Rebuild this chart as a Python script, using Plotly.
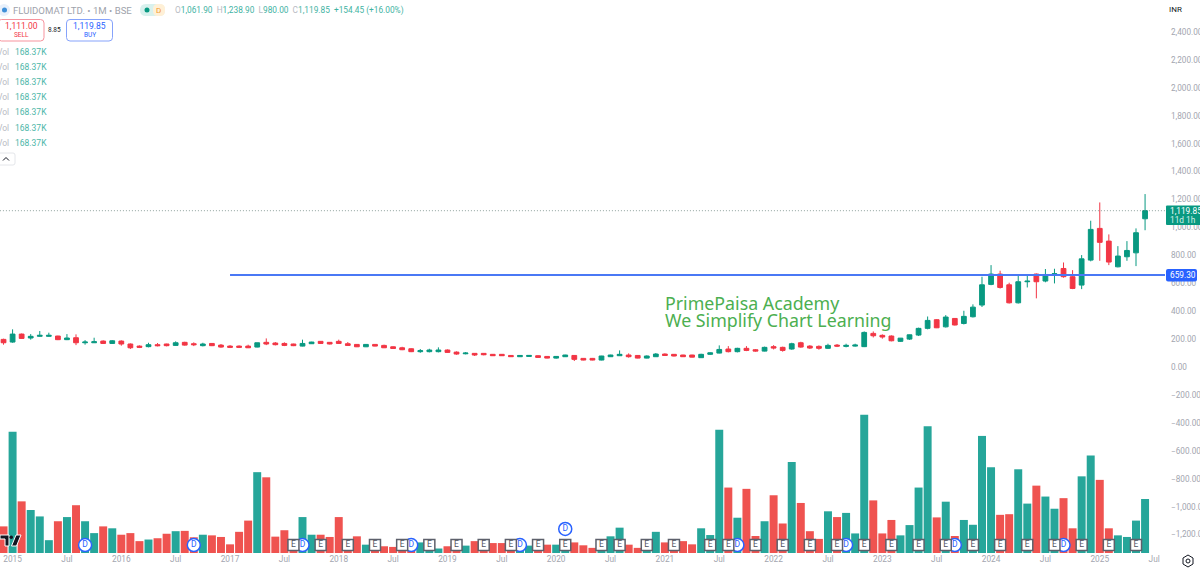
import plotly.graph_objects as go

W, H = 1200, 571
PLOT_RIGHT, PLOT_BOTTOM = 1165, 553

# monthly bars, Dec 2014 .. Jun 2025
months = ["2014-12"] + [f"{y}-{m:02d}" for y in range(2015, 2025) for m in range(1, 13)] \
    + [f"2025-{m:02d}" for m in range(1, 7)]
opens = [198, 179, 236, 208, 220, 220, 222, 196, 210, 174, 174, 186,
         169, 186, 165, 150, 146, 160, 165, 155, 177, 167, 153, 169,
         157, 150, 150, 150, 143, 177, 172, 169, 165, 150, 167, 184,
         177, 184, 167, 162, 145, 162, 155, 145, 138, 131, 110, 110,
         110, 122, 107, 95, 98, 98, 91, 91, 83, 74, 76, 81,
         76, 64, 74, 83, 62, 62, 50, 74, 81, 86, 83, 64,
         74, 93, 91, 86, 86, 67, 91, 100, 129, 110, 134, 124,
         114, 146, 141, 129, 174, 150, 148, 134, 157, 148, 150, 146,
         241, 227, 222, 184, 200, 229, 277, 339, 288, 348, 312, 360,
         444, 592, 666, 589, 460, 611, 666, 616, 663, 706, 647, 587,
         766, 993, 902, 718, 790, 818, 1061.90]
highs = [203, 270, 240, 236, 258, 246, 224, 236, 234, 193, 210, 191,
         193, 191, 169, 155, 174, 172, 167, 184, 181, 177, 174, 172,
         165, 157, 155, 160, 174, 205, 179, 177, 167, 196, 181, 186,
         179, 196, 179, 165, 165, 165, 160, 148, 145, 134, 129, 131,
         141, 126, 112, 107, 100, 100, 93, 93, 86, 86, 84, 84,
         79, 79, 88, 86, 64, 65, 80, 88, 119, 98, 86, 83,
         100, 98, 93, 88, 88, 95, 105, 155, 150, 138, 150, 129,
         146, 157, 146, 174, 181, 157, 155, 167, 165, 167, 167, 255,
         255, 234, 227, 208, 232, 282, 362, 343, 372, 351, 403, 449,
         647, 730, 690, 604, 656, 666, 670, 702, 704, 749, 694, 802,
         1048, 1179, 950, 866, 902, 993, 1238.90]
lows = [160, 174, 203, 196, 217, 217, 193, 193, 157, 160, 172, 165,
        165, 153, 129, 136, 141, 148, 148, 153, 153, 150, 148, 150,
        138, 136, 136, 136, 141, 157, 155, 150, 150, 148, 165, 165,
        162, 165, 153, 143, 143, 148, 136, 131, 121, 107, 102, 105,
        105, 102, 88, 91, 79, 84, 79, 79, 72, 72, 74, 67,
        62, 60, 72, 43, 48, 48, 48, 72, 79, 67, 62, 62,
        72, 79, 76, 72, 69, 65, 86, 98, 105, 105, 114, 110,
        112, 126, 110, 124, 138, 129, 124, 129, 143, 141, 146, 143,
        212, 203, 184, 180, 194, 222, 270, 279, 283, 298, 305, 355,
        430, 586, 562, 455, 455, 570, 492, 607, 599, 640, 558, 558,
        757, 761, 730, 714, 761, 723, 980.00]
closes = [174, 236, 205, 220, 227, 227, 196, 208, 174, 179, 181, 169,
          188, 165, 138, 141, 160, 153, 153, 174, 157, 160, 165, 153,
          143, 141, 141, 138, 174, 165, 160, 155, 153, 169, 179, 169,
          165, 169, 155, 145, 162, 150, 138, 133, 124, 110, 117, 122,
          122, 105, 93, 100, 86, 88, 81, 81, 74, 83, 83, 69,
          64, 76, 86, 55, 50, 50, 79, 86, 91, 74, 64, 79,
          93, 83, 79, 74, 71, 91, 102, 126, 110, 134, 119, 114,
          141, 136, 119, 167, 143, 136, 134, 155, 150, 155, 157, 248,
          224, 215, 188, 207, 231, 277, 334, 281, 358, 301, 363, 429,
          589, 666, 570, 460, 611, 615, 611, 663, 668, 647, 563, 775,
          986, 893, 752, 795, 835, 962, 1119.85]
volumes_k = [83, 378, 161, 134, 114, 40, 99, 112, 149, 99, 62, 83,
             77, 57, 62, 37, 42, 46, 60, 68, 69, 49, 57, 55,
             50, 27, 66, 101, 252, 236, 51, 71, 4, 112, 57, 57,
             50, 112, 42, 52, 26, 21, 21, 19, 16, 10, 33, 31,
             14, 21, 31, 23, 37, 36, 31, 31, 26, 21, 23, 31,
             26, 26, 31, 33, 24, 16, 31, 52, 79, 26, 16, 31,
             66, 33, 36, 37, 27, 77, 56, 384, 204, 110, 200, 53,
             99, 180, 92, 284, 156, 68, 44, 130, 112, 125, 61, 431,
             164, 61, 103, 55, 87, 204, 395, 111, 160, 53, 103, 88,
             365, 267, 119, 121, 261, 154, 210, 176, 138, 171, 77, 239,
             304, 228, 77, 55, 50, 101, 168.37]

price_ticks = [-1200, -1000, -800, -600, -400, -200, 0, 200, 400, 600, 800, 1000,
               1200, 1400, 1600, 1800, 2000, 2200, 2400]
price_labels = ["−1,200.00", "−1,000.00", "−800.00", "−600.00", "−400.00", "−200.00", "0.00",
                "200.00", "400.00", "600.00", "800.00", "1,000.00", "1,200.00", "1,400.00",
                "1,600.00", "1,800.00", "2,000.00", "2,200.00", "2,400.00"]
time_ticks = ["2015-01", "2015-07", "2016-01", "2016-07", "2017-01", "2017-07", "2018-01",
              "2018-07", "2019-01", "2019-07", "2020-01", "2020-07", "2021-01", "2021-07",
              "2022-01", "2022-07", "2023-01", "2023-07", "2024-01", "2024-07", "2025-01", "2025-07"]
time_labels = ["2015", "Jul", "2016", "Jul", "2017", "Jul", "2018", "Jul", "2019", "Jul", "2020",
               "Jul", "2021", "Jul", "2022", "Jul", "2023", "Jul", "2024", "Jul", "2025", "Jul"]

earnings = ["2017-08", "2017-11", "2018-02", "2018-05", "2018-08", "2018-11", "2019-02", "2019-05",
            "2019-08", "2019-11", "2020-02", "2020-06", "2020-08", "2020-11", "2021-02", "2021-06",
            "2021-08", "2021-11", "2022-02", "2022-05", "2022-08", "2022-11", "2023-02", "2023-05",
            "2023-08", "2023-11", "2024-02", "2024-05", "2024-08", "2024-11", "2025-02", "2025-05"]
dividends = ["2015-09", "2016-09", "2017-09", "2018-09", "2019-09", "2021-09", "2022-09",
             "2023-09", "2024-09"]
dividends_high = ["2020-02"]

support = 659.30
last_price = 1119.85

UP, DOWN = "#089981", "#f23645"
VOL_UP, VOL_DOWN = "#26a69a", "#ef5350"
GREY = "#a3a6af"
BLUE = "#2962ff"
FONT = "Noto Sans"
SMALL = "Roboto"


def px(x):
    return x / W


def py(y):
    return 1 - y / H


def rounded(x0, y0, x1, y1, r):
    # rounded box path, pixel input
    pts = [f"M{px(x0 + r)},{py(y0)}", f"L{px(x1 - r)},{py(y0)}", f"Q{px(x1)},{py(y0)} {px(x1)},{py(y0 + r)}",
           f"L{px(x1)},{py(y1 - r)}", f"Q{px(x1)},{py(y1)} {px(x1 - r)},{py(y1)}", f"L{px(x0 + r)},{py(y1)}",
           f"Q{px(x0)},{py(y1)} {px(x0)},{py(y1 - r)}", f"L{px(x0)},{py(y0 + r)}",
           f"Q{px(x0)},{py(y0)} {px(x0 + r)},{py(y0)}", "Z"]
    return " ".join(pts)


def poly(points):
    return "M" + " L".join(f"{px(a)},{py(b)}" for a, b in points) + " Z"


fig = go.Figure()

bar_colors = [VOL_UP if c >= o else VOL_DOWN for o, c in zip(opens, closes)]
fig.add_trace(go.Bar(x=months, y=volumes_k, marker=dict(color=bar_colors, line=dict(width=0)), yaxis="y"))

fig.add_trace(go.Candlestick(
    x=months, open=opens, high=highs, low=lows, close=closes, yaxis="y2", whiskerwidth=0,
    increasing=dict(line=dict(color=UP, width=1), fillcolor=UP),
    decreasing=dict(line=dict(color=DOWN, width=1), fillcolor=DOWN),
))

# event flags along the bottom of the pane
event_y = -1275
fig.add_trace(go.Scatter(
    x=dividends, y=[event_y] * len(dividends), yaxis="y2", mode="markers+text", text=["D"] * len(dividends),
    textfont=dict(family=SMALL, size=8.5, color=BLUE), textposition="middle center",
    marker=dict(symbol="circle", size=13, color="white", line=dict(color=BLUE, width=1.5)),
))
fig.add_trace(go.Scatter(
    x=dividends_high, y=[-1160], yaxis="y2", mode="markers+text", text=["D"],
    textfont=dict(family=SMALL, size=8.5, color=BLUE), textposition="middle center",
    marker=dict(symbol="circle", size=13, color="white", line=dict(color=BLUE, width=1.5)),
))
fig.add_trace(go.Scatter(
    x=earnings, y=[event_y] * len(earnings), yaxis="y2", mode="markers+text", text=["E"] * len(earnings),
    textfont=dict(family=SMALL, size=8.5, color="#50535e"), textposition="middle center",
    marker=dict(symbol="square", size=11, color="white", line=dict(color="#5d606b", width=1.5)),
))

shapes = [
    dict(type="line", xref="x", yref="y2", x0=-0.4, x1=128.3, y0=last_price, y1=last_price,
         line=dict(color="rgba(70,100,95,0.6)", width=1, dash="1px,2px")),
    dict(type="line", xref="x", yref="y2", x0=25, x1=128.4, y0=support, y1=support,
         line=dict(color="#4a78f5", width=2)),
    dict(type="path", path=rounded(1166, 205.5, 1201, 225, 1), fillcolor=UP, line=dict(width=0)),
    dict(type="path", path=rounded(1166, 269, 1197, 281.5, 2), fillcolor=BLUE, line=dict(width=0)),
    # sell / buy boxes
    dict(type="path", path=rounded(-2, 19.5, 44, 41, 3.5), fillcolor="white", line=dict(color="#f7939d", width=1)),
    dict(type="path", path=rounded(66.5, 19.5, 112.5, 41, 3.5), fillcolor="white", line=dict(color="#86a3fb", width=1)),
    # symbol badge and status pills
    dict(type="circle", xref="paper", yref="paper", x0=px(-2), x1=px(10), y0=py(16), y1=py(4),
         fillcolor="#e8f0fb", line=dict(width=0)),
    dict(type="circle", xref="paper", yref="paper", x0=px(2), x1=px(7), y0=py(12.5), y1=py(7.5),
         fillcolor="#3f8fd8", line=dict(width=0)),
    dict(type="path", path=rounded(140, 4, 165, 16, 6), fillcolor="#d8f1ed", line=dict(width=0)),
    dict(type="path", path=rounded(153, 4, 165, 16, 5), fillcolor="#fff0d6", line=dict(width=0)),
    dict(type="circle", xref="paper", yref="paper", x0=px(144.5), x1=px(149.5), y0=py(12.5), y1=py(7.5),
         fillcolor=UP, line=dict(width=0)),
    # collapse button
    dict(type="path", path=rounded(-2, 153, 15, 165, 2), fillcolor="white", line=dict(color="#e4e6ea", width=1)),
    dict(type="path", path=f"M{px(3)},{py(160.5)} L{px(6)},{py(157.5)} L{px(9)},{py(160.5)}",
         line=dict(color="#131722", width=1)),
    # logo
    dict(type="path", path=poly([(0, 535), (9, 535), (9, 546), (5, 546), (5, 539), (0, 539)]),
         fillcolor="#131722", line=dict(color="white", width=1)),
    dict(type="circle", xref="paper", yref="paper", x0=px(9.5), x1=px(13), y0=py(539), y1=py(535.5),
         fillcolor="#131722", line=dict(width=0)),
    dict(type="path", path=poly([(16, 535), (21, 535), (16.5, 546), (11.5, 546)]),
         fillcolor="#131722", line=dict(color="white", width=1)),
    # settings hexagon
    dict(type="path", path=poly([(1188, 555), (1193, 558), (1193, 564), (1188, 567), (1183, 564), (1183, 558)]),
         fillcolor="white", line=dict(color="#131722", width=1)),
    dict(type="circle", xref="paper", yref="paper", x0=px(1186), x1=px(1190), y0=py(563), y1=py(559),
         fillcolor="white", line=dict(color="#131722", width=1)),
]
for s in shapes:
    s.setdefault("xref", "paper")
    s.setdefault("yref", "paper")


def note(x, y, text, size=10, color=GREY, anchor="left", family=SMALL):
    fig.add_annotation(xref="paper", yref="paper", x=px(x), y=py(y), text=text, showarrow=False,
                       xanchor=anchor, yanchor="middle", font=dict(family=family, size=size, color=color),
                       borderpad=0, borderwidth=0)


note(13, 10, "FLUIDOMAT LTD. • 1M • BSE", size=9.6, color="#a0a3ac")
note(158.5, 10, "D", size=8, color="#f39a2e", anchor="center")
g = "#3fb3a3"
sp = "&nbsp;&nbsp;"
note(175, 10, f"O<span style='color:{g}'>1,061.90</span>{sp}H<span style='color:{g}'>1,238.90</span>{sp}"
              f"L<span style='color:{g}'>980.00</span>{sp}C<span style='color:{g}'>1,119.85</span>{sp}"
              f"<span style='color:{g}'>+154.45 (+16.00%)</span>", size=8.3, color="#b8bbc3")
note(21, 26.5, "1,111.00", size=8.5, color="#f23645", anchor="center")
note(21, 35.5, "SELL", size=6.5, color="#f23645", anchor="center")
note(55, 30, "8.85", size=6.5, color="#131722", anchor="center")
note(89.5, 26.5, "1,119.85", size=8.5, color=BLUE, anchor="center")
note(89.5, 35.5, "BUY", size=6.5, color=BLUE, anchor="center")
for row_y in [52, 67, 82, 97, 112, 128, 143]:
    note(-3, row_y, "Vol", size=8.5, color="#b8bbc3")
    note(15, row_y, "168.37K", size=8.5, color="#4db6a8")
note(1169, 9, "INR", size=8, color="#131722")
note(1170, 211, "1,119.85", size=8.3, color="white")
note(1170, 219.5, "11d 1h", size=8.3, color="#d5f0ea")
note(1170, 275, "659.30", size=8.3, color="white")
note(665, 303, "PrimePaisa Academy", size=17.8, color="#4caf50", family=FONT)
note(665, 320, "We Simplify Chart Learning", size=17.8, color="#4caf50", family=FONT)

fig.update_layout(
    width=W, height=H, margin=dict(l=0, r=0, t=0, b=0), paper_bgcolor="white", plot_bgcolor="white",
    showlegend=False, bargap=0.12, boxgap=0.25, shapes=shapes, hovermode=False,
    xaxis=dict(type="category", categoryorder="array", categoryarray=months + ["2025-07"], automargin=False,
               domain=[0, PLOT_RIGHT / W], range=[-0.39, 128.2], rangeslider=dict(visible=False),
               tickmode="array", tickvals=time_ticks, ticktext=time_labels, showgrid=False, zeroline=False,
               showline=False, ticks="", tickangle=0, tickfont=dict(family=SMALL, size=8.3, color=GREY)),
    yaxis=dict(domain=[1 - PLOT_BOTTOM / H, 1], range=[0, 1724], visible=False, showgrid=False, zeroline=False,
               automargin=False),
    yaxis2=dict(overlaying="y", side="right", anchor="x", range=[-1332, 2629], tickmode="array", automargin=False,
                tickvals=price_ticks, ticktext=price_labels, showgrid=False, zeroline=False, showline=False,
                ticks="", ticklabelstandoff=5, tickfont=dict(family=SMALL, size=8.2, color=GREY)),
)

fig.write_html("out.html", config=dict(displayModeBar=False), post_script="document.body.style.margin='0';")
